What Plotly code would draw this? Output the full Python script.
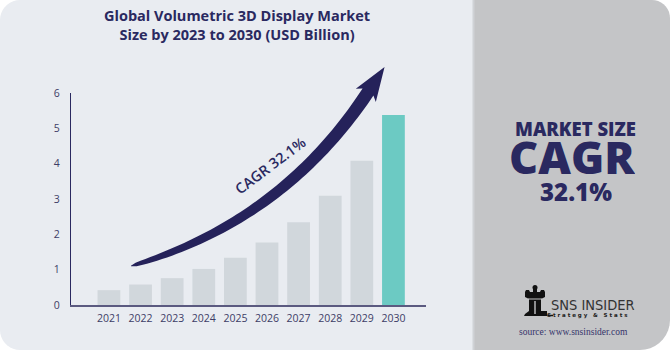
import numpy as np
import plotly.graph_objects as go

# ---------------- data ----------------
years = ["2021", "2022", "2023", "2024", "2025", "2026", "2027", "2028", "2029", "2030"]
market_size = [0.42, 0.58, 0.76, 1.02, 1.34, 1.77, 2.34, 3.09, 4.08, 5.38]
bar_colors = ["#d1d7dc"] * 9 + ["#6ccac3"]
y_ticks = [0, 1, 2, 3, 4, 5, 6]
title_text = "Global Volumetric 3D Display Market<br>Size by 2023 to 2030 (USD Billion)"
first_label = "0.58"
last_label = "5.38(BN)"
cagr_text = "CAGR 32.1%"

W, H = 670, 350
NAVY = "#2a2960"
TICK = "#3d3d66"


def px(x):
    return x / W


def py(y):
    return 1 - y / H


def poly_path(points):
    pts = [f"{px(x):.5f},{py(y):.5f}" for x, y in points]
    return "M " + " L ".join(pts) + " Z"


def rounded_rect(x0, y0, x1, y1, rtl=0, rtr=0, rbr=0, rbl=0, n=10):
    pts = []
    if rtl:
        for a in np.linspace(np.pi, 1.5 * np.pi, n):
            pts.append((x0 + rtl + rtl * np.cos(a), y0 + rtl + rtl * np.sin(a)))
    else:
        pts.append((x0, y0))
    if rtr:
        for a in np.linspace(1.5 * np.pi, 2 * np.pi, n):
            pts.append((x1 - rtr + rtr * np.cos(a), y0 + rtr + rtr * np.sin(a)))
    else:
        pts.append((x1, y0))
    if rbr:
        for a in np.linspace(0, 0.5 * np.pi, n):
            pts.append((x1 - rbr + rbr * np.cos(a), y1 - rbr + rbr * np.sin(a)))
    else:
        pts.append((x1, y1))
    if rbl:
        for a in np.linspace(0.5 * np.pi, np.pi, n):
            pts.append((x0 + rbl + rbl * np.cos(a), y1 - rbl + rbl * np.sin(a)))
    else:
        pts.append((x0, y1))
    return poly_path(pts)


fig = go.Figure(
    go.Bar(
        x=years,
        y=market_size,
        width=0.72,
        marker=dict(color=bar_colors, line=dict(width=0)),
        hoverinfo="x+y",
    )
)

shapes = []
# background panels
shapes.append(dict(type="path", xref="paper", yref="paper", layer="below",
                   path=rounded_rect(0, 0, 474, 350, rtl=20, rbl=20),
                   fillcolor="#e9ecf1", line=dict(width=0)))
shapes.append(dict(type="path", xref="paper", yref="paper", layer="below",
                   path=rounded_rect(473, 0, 670, 350, rtr=18, rbr=30),
                   fillcolor="#c4c5c7", line=dict(width=0)))
shapes.append(dict(type="rect", xref="paper", yref="paper", layer="below",
                   x0=px(472.5), x1=px(474.5), y0=0, y1=1,
                   fillcolor="#cfd2d6", line=dict(width=0)))

# curved CAGR arrow (decoration)
P0 = np.array([131.0, 266.0])
C = np.array([282.0, 222.0])
P2 = np.array([368.0, 92.0])
ts = np.linspace(0, 1, 60)
left, right = [], []
for t in ts:
    p = (1 - t) ** 2 * P0 + 2 * t * (1 - t) * C + t ** 2 * P2
    d = 2 * (1 - t) * (C - P0) + 2 * t * (P2 - C)
    d = d / np.linalg.norm(d)
    nrm = np.array([-d[1], d[0]])
    w = 0.3 + 6.2 * t ** 0.35
    left.append(p - w * nrm)
    right.append(p + w * nrm)
d_end = (P2 - C) / np.linalg.norm(P2 - C)
n_end = np.array([-d_end[1], d_end[0]])
tip = P2 + 30 * d_end
barb_l = P2 - 12 * n_end - 4 * d_end
barb_r = P2 + 12 * n_end - 4 * d_end
arrow_pts = left + [barb_l, tip, barb_r] + right[::-1]
shapes.append(dict(type="path", xref="paper", yref="paper",
                   path=poly_path(arrow_pts), fillcolor="#25225a",
                   line=dict(width=0)))

# logo icon (rook)
icon = [(533, 289), (537, 289), (537, 292), (540, 292), (541, 290), (544, 290),
        (545, 292), (545, 297), (541, 299), (541, 311), (547, 311), (547, 314),
        (548, 316), (524, 316), (525, 314), (529, 311), (529, 299), (525, 297),
        (525, 292), (526, 290), (529, 290), (530, 292), (533, 292)]
shapes.append(dict(type="path", xref="paper", yref="paper",
                   path=poly_path(icon), fillcolor="#111111", line=dict(width=0)))
shapes.append(dict(type="circle", xref="paper", yref="paper",
                   x0=px(532.5), x1=px(537.5), y0=py(290), y1=py(285),
                   fillcolor="#111111", line=dict(width=0)))
shapes.append(dict(type="rect", xref="paper", yref="paper",
                   x0=px(528), x1=px(542), y0=py(299.5), y1=py(298.5),
                   fillcolor="#c4c5c7", line=dict(width=0)))
shapes.append(dict(type="rect", xref="paper", yref="paper",
                   x0=px(534.3), x1=px(535.7), y0=py(314), y1=py(301),
                   fillcolor="#c4c5c7", line=dict(width=0)))
shapes.append(dict(type="line", xref="paper", yref="paper",
                   x0=px(548), x1=px(553), y0=py(315.5), y1=py(315.5),
                   line=dict(color="#111111", width=1.5)))


def note(text, x, y, size, color=NAVY, family="Open Sans", weight=400,
         xanchor="center", angle=0, height=None):
    d = dict(text=text, x=px(x), y=py(y), xref="paper", yref="paper",
             showarrow=False, xanchor=xanchor, yanchor="middle",
             textangle=angle, align="center", valign="middle",
             font=dict(family=family, size=size, color=color, weight=weight))
    if height:
        d["height"] = height
    return d


annotations = [
    note(title_text, 237, 25, 14.5, weight=700),
    dict(text=first_label, x=years[1], y=market_size[1], xref="x", yref="y",
         showarrow=False, xanchor="center", yanchor="bottom", yshift=3,
         font=dict(family="Open Sans", size=10.5, color=TICK)),
    dict(text=last_label, x=years[-1], y=market_size[-1], xref="x", yref="y",
         showarrow=False, xanchor="center", yanchor="bottom", yshift=6, xshift=7,
         font=dict(family="Open Sans", size=10.5, color=TICK)),
    note(cagr_text, 270, 165, 14.5, weight=600, angle=-37),
    note("MARKET SIZE", 575, 128.5, 18.5, weight=800, height=17),
    note("CAGR", 572, 156, 45, weight=800, height=36),
    note("32.1%", 576, 190.5, 24, weight=800, height=22),
    note("SNS INSIDER", 549, 304.5, 14.5, color="#333333",
         family="Liberation Sans Narrow, DejaVu Sans Condensed, Roboto",
         xanchor="left"),
    note("S t r a t e g y   &   S t a t s", 587, 315.5, 5.5, color="#222222",
         family="DejaVu Sans", weight=700),
    note("source: www.snsinsider.com", 573, 332, 9.5, color="#34346a",
         family="Liberation Serif, DejaVu Serif"),
]

fig.update_layout(
    width=W, height=H,
    margin=dict(l=0, r=0, t=0, b=0),
    paper_bgcolor="#ffffff",
    plot_bgcolor="rgba(0,0,0,0)",
    showlegend=False,
    shapes=shapes,
    annotations=annotations,
    xaxis=dict(
        type="category",
        domain=[px(71), px(426)],
        range=[-1.2, 10.03],
        automargin=False,
        showline=True, linecolor="#5b5a80", linewidth=1.5,
        showgrid=False, zeroline=False,
        ticks="outside", ticklen=3, tickcolor="rgba(0,0,0,0)",
        tickfont=dict(family="Open Sans", size=10.5, color=TICK),
        fixedrange=True,
    ),
    yaxis=dict(
        domain=[py(305), py(93)],
        range=[0, 6],
        tickvals=y_ticks,
        automargin=False,
        showline=True, linecolor="#2a2960", linewidth=1.2,
        showgrid=False, zeroline=False,
        ticks="outside", ticklen=8, tickcolor="rgba(0,0,0,0)",
        tickfont=dict(family="Open Sans", size=10.5, color=TICK),
        fixedrange=True,
    ),
)

fig.write_html("out.html")
